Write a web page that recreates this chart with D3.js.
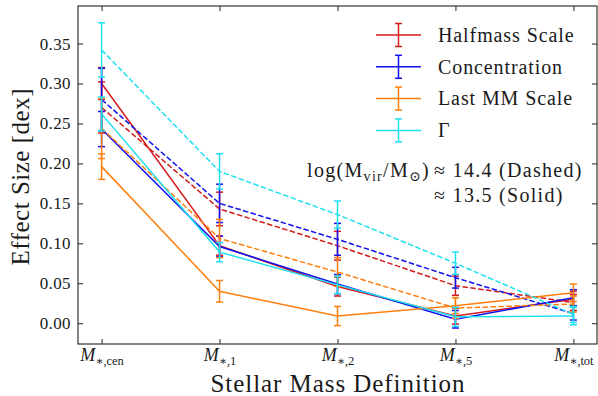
<!DOCTYPE html>
<html>
<head>
<title>Effect Size</title>
<script src="https://d3js.org/d3.v7.min.js"></script>
<style>
    body { margin: 0; background: #fff; }
    svg text { font-family: "Liberation Serif", "DejaVu Serif", serif; fill: #1a1a1a; }
    .frame { fill: none; stroke: #222; stroke-width: 1.1px; }
    .tick line { stroke: #222; stroke-width: 1px; }
    .domain { display: none; }
</style>
</head>
<body>
<div id="chart"></div>
<script>
    // x categories (subscripts of M_*)
    const categories = ["cen", "1", "2", "5", "tot"];
    const yTicks = [0, 0.05, 0.10, 0.15, 0.20, 0.25, 0.30, 0.35];

    const names = ["Halfmass Scale", "Concentration", "Last MM Scale", "\u0393"];
    const colors = ["#d41c1c", "#1212f0", "#ff7f0e", "#1ee0f0"];

    // log(Mvir) ~ 13.5 (solid)
    const halfmassLo    = [0.300, 0.097, 0.046, 0.009, 0.030];
    const halfmassLoErr = [0.020, 0.012, 0.012, 0.010, 0.010];
    const concLo        = [0.243, 0.096, 0.049, 0.005, 0.032];
    const concLoErr     = [0.022, 0.013, 0.012, 0.011, 0.010];
    const lastmmLo      = [0.196, 0.040, 0.009, 0.022, 0.038];
    const lastmmLoErr   = [0.016, 0.0135, 0.012, 0.010, 0.011];
    const gammaLo       = [0.262, 0.089, 0.048, 0.008, 0.009];
    const gammaLoErr    = [0.021, 0.012, 0.011, 0.012, 0.011];

    // log(Mvir) ~ 14.4 (dashed)
    const halfmassHi    = [0.270, 0.143, 0.097, 0.047, 0.026];
    const halfmassHiErr = [0.032, 0.021, 0.018, 0.012, 0.010];
    const concHi        = [0.280, 0.150, 0.105, 0.057, 0.012];
    const concHiErr     = [0.039, 0.024, 0.020, 0.013, 0.008];
    const lastmmHi      = [0.244, 0.106, 0.064, 0.019, 0.024];
    const lastmmHiErr   = [0.038, 0.024, 0.018, 0.013, 0.010];
    const gammaHi       = [0.342, 0.190, 0.136, 0.075, 0.011];
    const gammaHiErr    = [0.034, 0.022, 0.017, 0.014, 0.010];

    const lo = [halfmassLo, concLo, lastmmLo, gammaLo];
    const loErr = [halfmassLoErr, concLoErr, lastmmLoErr, gammaLoErr];
    const hi = [halfmassHi, concHi, lastmmHi, gammaHi];
    const hiErr = [halfmassHiErr, concHiErr, lastmmHiErr, gammaHiErr];

    const width = 598, height = 396;
    const mLeft = 78, mRight = 597, mTop = 6, mBottom = 344;

    const svg = d3.select("#chart").append("svg")
        .attr("width", width)
        .attr("height", height);

    const x = d3.scaleLinear().domain([-0.2, 4.2]).range([mLeft, mRight]);
    const y = d3.scaleLinear().domain([-0.026, 0.397]).range([mBottom, mTop]);

    // axes, ticks pointing inward
    svg.append("g")
        .attr("transform", `translate(${mLeft},0)`)
        .call(d3.axisLeft(y).tickValues(yTicks).tickSize(-5).tickPadding(7)
            .tickFormat(d3.format(".2f")))
        .selectAll("text").style("font-size", "17px").style("letter-spacing", "0.4px");
    svg.append("g")
        .attr("transform", `translate(${mRight},0)`)
        .call(d3.axisRight(y).tickValues(yTicks).tickSize(-5).tickFormat(""));

    const xAxis = svg.append("g")
        .attr("transform", `translate(0,${mBottom})`)
        .call(d3.axisBottom(x).tickValues(d3.range(categories.length)).tickSize(-5).tickPadding(10)
            .tickFormat(""));
    svg.append("g")
        .attr("transform", `translate(0,${mTop})`)
        .call(d3.axisTop(x).tickValues(d3.range(categories.length)).tickSize(-5).tickFormat(""));

    xAxis.selectAll(".tick").append("text")
        .attr("y", 17)
        .attr("text-anchor", "middle")
        .each(function (d) {
            const t = d3.select(this);
            t.append("tspan").style("font-style", "italic").style("font-size", "18px").text("M");
            t.append("tspan").style("font-size", "12px").attr("dy", 4).text("\u2217,");
            t.append("tspan").style("font-size", "12.5px").text(categories[d]);
        });

    const line = d3.line().x((d, i) => x(i)).y(d => y(d));
    const plot = svg.append("g");

    function drawSeries(vals, errs, color, dashed) {
        plot.append("path")
            .datum(vals)
            .attr("d", line)
            .attr("fill", "none")
            .attr("stroke", color)
            .attr("stroke-width", 1.5)
            .attr("stroke-dasharray", dashed ? "5.5,2.4" : null);
        const g = plot.append("g").attr("stroke", color).attr("stroke-width", 1.5);
        vals.forEach((v, i) => {
            const cx = x(i), y0 = y(v - errs[i]), y1 = y(v + errs[i]);
            g.append("line").attr("x1", cx).attr("x2", cx).attr("y1", y0).attr("y2", y1);
            g.append("line").attr("x1", cx - 3.5).attr("x2", cx + 3.5).attr("y1", y0).attr("y2", y0);
            g.append("line").attr("x1", cx - 3.5).attr("x2", cx + 3.5).attr("y1", y1).attr("y2", y1);
        });
    }

    names.forEach((n, k) => {
        drawSeries(hi[k], hiErr[k], colors[k], true);
        drawSeries(lo[k], loErr[k], colors[k], false);
    });

    svg.append("rect").attr("class", "frame")
        .attr("x", mLeft).attr("y", mTop)
        .attr("width", mRight - mLeft).attr("height", mBottom - mTop);

    // axis labels
    svg.append("text")
        .attr("x", (mLeft + mRight) / 2).attr("y", 392)
        .attr("text-anchor", "middle")
        .attr("textLength", 254)
        .style("font-size", "25px")
        .text("Stellar Mass Definition");
    svg.append("text")
        .attr("transform", "translate(29,177) rotate(-90)")
        .attr("text-anchor", "middle")
        .attr("textLength", 177)
        .style("font-size", "25px")
        .text("Effect Size [dex]");

    // legend
    const legend = svg.append("g");
    names.forEach((n, k) => {
        const ly = 35 + k * 31.8;
        const g = legend.append("g").attr("stroke", colors[k]).attr("stroke-width", 1.5);
        g.append("line").attr("x1", 376).attr("x2", 421).attr("y1", ly).attr("y2", ly);
        g.append("line").attr("x1", 398.5).attr("x2", 398.5).attr("y1", ly - 11.5).attr("y2", ly + 11.5);
        g.append("line").attr("x1", 395).attr("x2", 402).attr("y1", ly - 11.5).attr("y2", ly - 11.5);
        g.append("line").attr("x1", 395).attr("x2", 402).attr("y1", ly + 11.5).attr("y2", ly + 11.5);
        legend.append("text")
            .attr("x", 438).attr("y", ly + 6.8)
            .style("font-size", "20px")
            .style("letter-spacing", "0.9px")
            .text(n);
    });

    // mass annotation
    const note1 = svg.append("text")
        .attr("x", 430).attr("y", 176.5)
        .attr("text-anchor", "end")
        .style("font-size", "20px")
        .style("letter-spacing", "1.3px");
    note1.append("tspan").text("log(M");
    note1.append("tspan").attr("dy", 4).style("font-size", "14px").text("vir");
    note1.append("tspan").attr("dy", -4).text("/M");
    note1.append("tspan").attr("dy", 4).style("font-size", "14px").text("\u2299");
    note1.append("tspan").attr("dy", -4).text(")");
    svg.append("text")
        .attr("x", 434).attr("y", 176.5)
        .style("font-size", "20px")
        .style("letter-spacing", "1.3px")
        .text("\u2248 14.4 (Dashed)");
    svg.append("text")
        .attr("x", 434).attr("y", 201.5)
        .style("font-size", "20px")
        .style("letter-spacing", "1.3px")
        .text("\u2248 13.5 (Solid)");
</script>
</body>
</html>
